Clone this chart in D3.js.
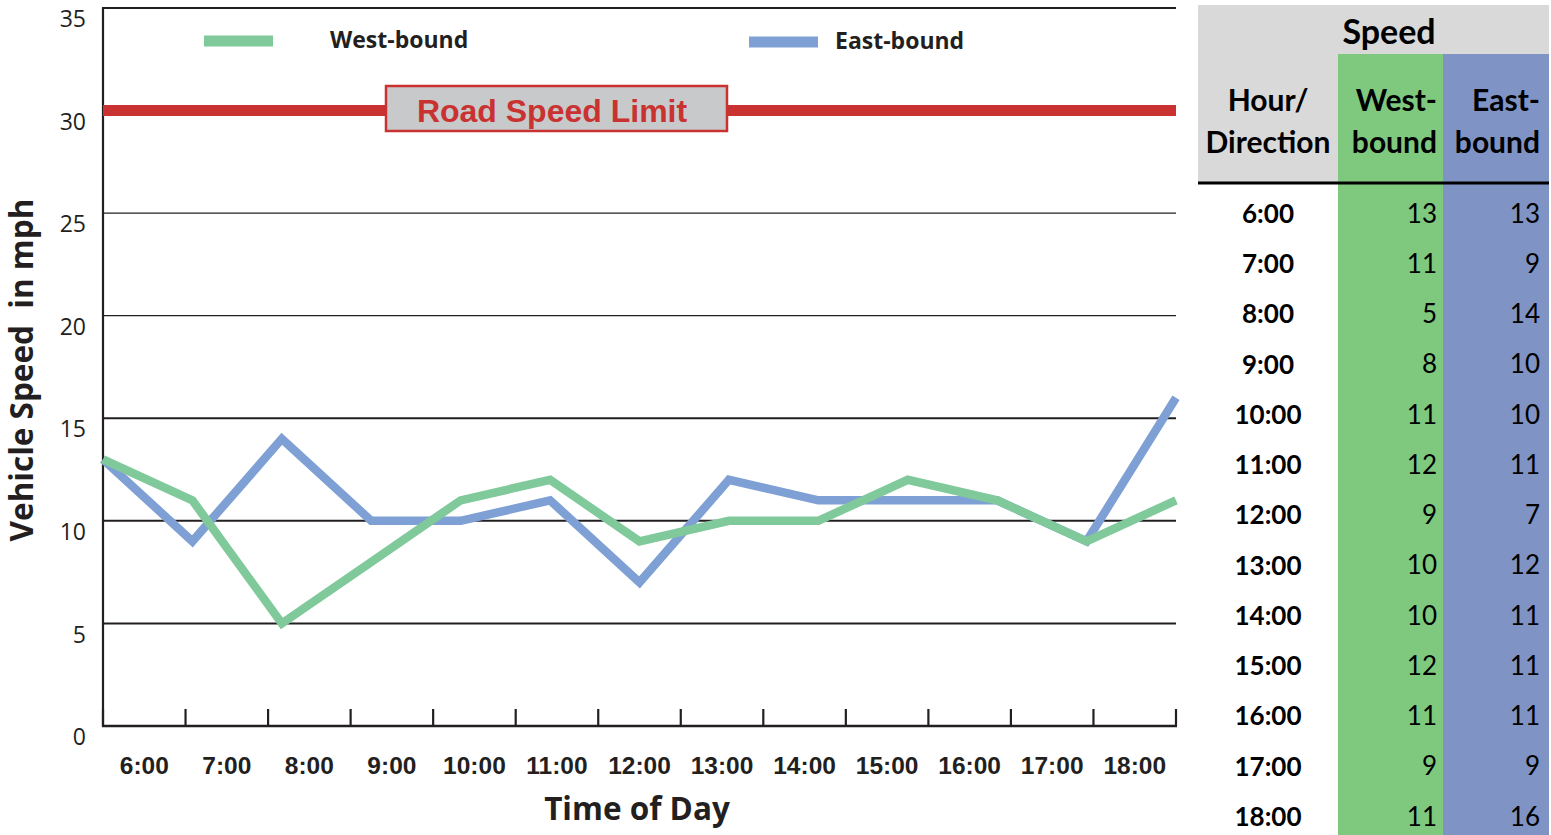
<!DOCTYPE html>
<html><head><meta charset="utf-8">
<script src="https://cdn.jsdelivr.net/npm/d3@7"></script>
<style>body{margin:0;background:#fff}svg{display:block}</style>
</head><body>
<svg id="c" width="1551" height="835"></svg>
<script>
const hours = ["6:00","7:00","8:00","9:00","10:00","11:00","12:00","13:00","14:00","15:00","16:00","17:00","18:00"];
const westBound = [13,11,5,8,11,12,9,10,10,12,11,9,11];
const eastBound = [13,9,14,10,10,11,7,12,11,11,11,9,16];
const yTicks = [0,5,10,15,20,25,30,35];
const speedLimit = 30;

const svg = d3.select("#c");
const L = 103, R = 1176, T = 8, B = 726;
const y = d3.scaleLinear().domain([0,35]).range([B,T]);
const xb = d3.scaleBand().domain(hours).range([L,R]).padding(0);
const xp = d3.scalePoint().domain(hours).range([L,R]).padding(0);

// gridlines
const g = svg.append("g");
g.selectAll("line.grid").data([5,10,15,20,25,35]).join("line")
  .attr("x1",L).attr("x2",R).attr("y1",d=>y(d)).attr("y2",d=>y(d))
  .attr("stroke","#231f20").attr("stroke-width",d=>d>=20&&d<35?1.3:2);

// y tick labels
g.selectAll("text.yt").data(yTicks).join("text")
  .attr("x",86).attr("y",d=>y(d)+13).attr("text-anchor","end").attr("dominant-baseline","middle")
  .style("font-family","'Open Sans',sans-serif").style("font-size","23px").attr("fill","#231f20")
  .text(d=>d);

// y axis line
g.append("line").attr("x1",L).attr("x2",L).attr("y1",T-1).attr("y2",B+1).attr("stroke","#231f20").attr("stroke-width",2.2);

// x axis
const xa = svg.append("g").attr("transform",`translate(0,${B})`)
  .call(d3.axisBottom(xb).tickSize(0).tickPadding(0));
xa.select(".domain").remove();
xa.selectAll(".tick line").remove();
xa.selectAll("text").attr("y",42).attr("dy",null).attr("dominant-baseline","middle")
  .style("font-family","'Liberation Sans',Arial,sans-serif").style("font-size","24.5px").style("font-weight","bold").attr("fill","#231f20");
svg.append("line").attr("x1",L-1).attr("x2",R+1).attr("y1",B).attr("y2",B).attr("stroke","#231f20").attr("stroke-width",2.5);
const bounds = hours.map(h=>xb(h)).concat([R]);
svg.selectAll("line.xt").data(bounds).join("line")
  .attr("x1",d=>d).attr("x2",d=>d).attr("y1",B-17).attr("y2",B)
  .attr("stroke","#231f20").attr("stroke-width",2.2);

// speed limit
svg.append("line").attr("x1",L).attr("x2",R).attr("y1",y(speedLimit)).attr("y2",y(speedLimit))
  .attr("stroke","#c93230").attr("stroke-width",11);
svg.append("rect").attr("x",386).attr("y",86).attr("width",341).attr("height",45)
  .attr("fill","#c8c9cb").attr("stroke","#c93230").attr("stroke-width",2.5);
svg.append("text").attr("x",552).attr("y",y(speedLimit)).attr("text-anchor","middle").attr("dominant-baseline","central")
  .style("font-family","'Liberation Sans',Arial,sans-serif").style("font-size","32px").style("font-weight","bold")
  .attr("fill","#c93230").text("Road Speed Limit");

// lines
const line = d3.line().x((d,i)=>xp(hours[i])).y(d=>y(d)).curve(d3.curveLinear);
svg.append("path").datum(eastBound).attr("d",line).attr("fill","none")
  .attr("stroke","#7ea0d4").attr("stroke-width",8.5).attr("stroke-linejoin","miter");
svg.append("path").datum(westBound).attr("d",line).attr("fill","none")
  .attr("stroke","#80c99b").attr("stroke-width",8.5).attr("stroke-linejoin","miter");

// legend
const legend = [{name:"West-bound",c:"#80c99b",x:204,tx:330,y:41},{name:"East-bound",c:"#7ea0d4",x:749,tx:835,y:42}];
legend.forEach(d=>{
  svg.append("rect").attr("x",d.x).attr("y",d.y-5.5).attr("width",69).attr("height",11).attr("fill",d.c);
  svg.append("text").attr("x",d.tx).attr("y",d.y+1).attr("dominant-baseline","middle")
    .style("font-family","'Open Sans',sans-serif").style("font-size","23px").style("font-weight","bold")
    .attr("fill","#231f20").text(d.name);
});

// axis titles
svg.append("text").attr("x",637).attr("y",812).attr("text-anchor","middle").attr("dominant-baseline","middle")
  .style("font-family","'Open Sans',sans-serif").style("font-size","31.5px").style("font-weight","bold")
  .attr("fill","#231f20").text("Time of Day");
svg.append("text").attr("transform","translate(25,370) rotate(-90)").attr("text-anchor","middle").attr("dominant-baseline","middle")
  .style("font-family","'Open Sans',sans-serif").style("font-size","31.5px").style("font-weight","bold")
  .attr("fill","#231f20").text("Vehicle Speed  in mph").style("white-space","pre");

// table
const tf = "'Lato','Open Sans',sans-serif";
const c0 = 1198, c1 = 1338, c2 = 1443, c3 = 1549;
const tb = svg.append("g");
tb.append("rect").attr("x",c0).attr("y",5).attr("width",c3-c0).attr("height",50).attr("fill","#d9d9d9");
tb.append("rect").attr("x",c0).attr("y",54).attr("width",c1-c0).attr("height",129).attr("fill","#d9d9d9");
tb.append("rect").attr("x",c1).attr("y",54).attr("width",c2-c1).attr("height",835-54).attr("fill","#7fc97f");
tb.append("rect").attr("x",c2).attr("y",54).attr("width",c3-c2).attr("height",835-54).attr("fill","#7f93c4");
tb.append("line").attr("x1",c0).attr("x2",c3).attr("y1",183).attr("y2",183).attr("stroke","#000").attr("stroke-width",3);
const ht = (x,yy,t,anchor,fs)=>tb.append("text").attr("x",x).attr("y",yy).attr("text-anchor",anchor).attr("dominant-baseline","middle")
  .style("font-family",tf).style("font-size",(fs||29)+"px").style("font-weight","bold").attr("fill","#000").text(t);
ht(1389,35,"Speed","middle",34);
ht(1268,103,"Hour/","middle",30);
ht(1268,145,"Direction","middle",30);
ht(1437,103,"West-","end",30);
ht(1437,145,"bound","end",30);
ht(1540,103,"East-","end",30);
ht(1540,145,"bound","end",30);

const ry = d3.scaleBand().domain(hours).range([188,841.25]);
const rows = tb.selectAll("g.row").data(hours).join("g").attr("transform",d=>`translate(0,${ry(d)+ry.bandwidth()/2+3})`);
rows.append("text").attr("x",1268).attr("text-anchor","middle").attr("dominant-baseline","middle")
  .style("font-family",tf).style("font-size","26px").style("font-weight","bold").text(d=>d);
rows.append("text").attr("x",1437).attr("text-anchor","end").attr("dominant-baseline","middle")
  .style("font-family",tf).style("font-size","26px").text((d,i)=>westBound[i]);
rows.append("text").attr("x",1540).attr("text-anchor","end").attr("dominant-baseline","middle")
  .style("font-family",tf).style("font-size","26px").text((d,i)=>eastBound[i]);
</script>
</body></html>
